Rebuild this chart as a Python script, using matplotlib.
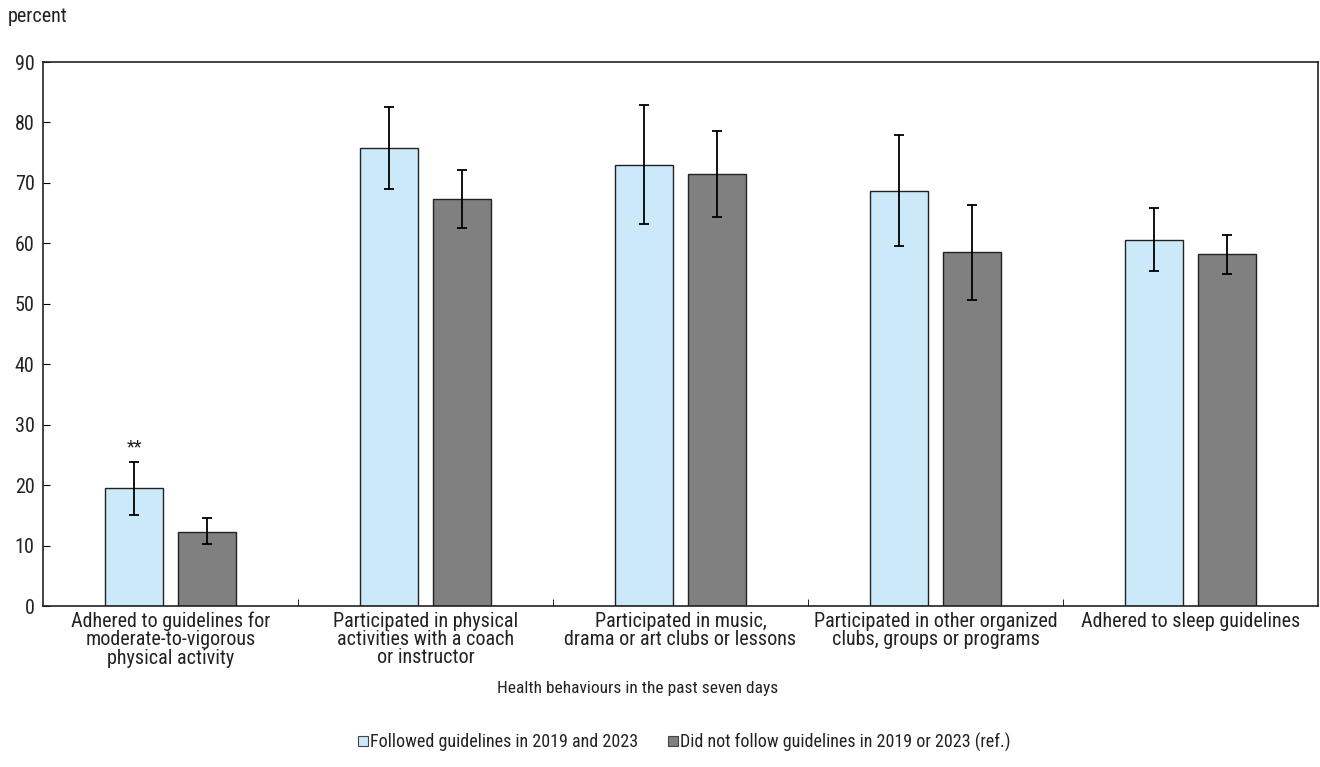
import matplotlib
matplotlib.use("Agg")
import matplotlib.pyplot as plt
import numpy as np
from matplotlib.lines import Line2D

plt.rcParams['font.family'] = ['Roboto Condensed', 'DejaVu Sans']
plt.rcParams['text.color'] = '#222222'

categories = [
    "Adhered to guidelines for\nmoderate-to-vigorous\nphysical activity",
    "Participated in physical\nactivities with a coach\nor instructor",
    "Participated in music,\ndrama or art clubs or lessons",
    "Participated in other organized\nclubs, groups or programs",
    "Adhered to sleep guidelines",
]
series_names = ["Followed guidelines in 2019 and 2023",
                "Did not follow guidelines in 2019 or 2023 (ref.)"]
followed = [19.5, 75.8, 73.0, 68.7, 60.6]
followed_lo = [15.1, 69.0, 63.2, 59.6, 55.4]
followed_hi = [23.9, 82.6, 82.9, 77.9, 65.9]
not_followed = [12.3, 67.3, 71.5, 58.5, 58.2]
not_followed_lo = [10.2, 62.6, 64.4, 50.6, 55.0]
not_followed_hi = [14.6, 72.1, 78.6, 66.3, 61.3]
annotations = ["**", "", "", "", ""]

fig = plt.figure(figsize=(13.2, 7.67), dpi=100)
ax = fig.add_axes([43/1320, 1-606/767, 1275/1320, 544/767])

x = np.arange(len(categories))
w = 0.224
off = 0.143
c1, c2 = "#cce9f9", "#808080"

def yerr(v, lo, hi):
    v, lo, hi = map(np.array, (v, lo, hi))
    return np.vstack([v - lo, hi - v])

ekw = dict(ecolor="black", elinewidth=1.3, capsize=3.5, capthick=1.3)
ax.bar(x - off, followed, w, color=c1, edgecolor="#222222", linewidth=1.0,
       yerr=yerr(followed, followed_lo, followed_hi), error_kw=ekw, zorder=2)
ax.bar(x + off, not_followed, w, color=c2, edgecolor="#222222", linewidth=1.0,
       yerr=yerr(not_followed, not_followed_lo, not_followed_hi), error_kw=ekw, zorder=2)

for i, a in enumerate(annotations):
    if a:
        ax.text(x[i] - off, followed_hi[i] + 0.8, a, ha="center", va="bottom", fontsize=13)

ax.set_xlim(-0.5, len(categories) - 0.5)
ax.set_ylim(0, 90)
ax.set_yticks(range(0, 91, 10))
ax.tick_params(axis="y", direction="in", length=5, labelsize=14.5, pad=6, labelcolor="#222222")
ax.set_xticks(x)
ax.set_xticklabels(categories, fontsize=14.5, color="#222222", linespacing=0.95)
ax.tick_params(axis="x", length=0, pad=4)
ax.set_xticks(np.arange(0.5, len(categories) - 0.5, 1), minor=True)
ax.tick_params(axis="x", which="minor", direction="in", length=5)
for s in ax.spines.values():
    s.set_linewidth(1.2)
    s.set_color("#222222")

fig.text(8/1320, 1-17/767, "percent", fontsize=14.5, va="center", ha="left")
fig.text(638/1320, 1-688/767, "Health behaviours in the past seven days", fontsize=12.5,
         ha="center", va="center")

handles = [Line2D([], [], marker="s", linestyle="none", markersize=6.5, markerfacecolor=c1,
                  markeredgecolor="#444444", markeredgewidth=0.8),
           Line2D([], [], marker="s", linestyle="none", markersize=6.5, markerfacecolor=c2,
                  markeredgecolor="#444444", markeredgewidth=0.8)]
fig.legend(handles, series_names, loc="center", bbox_to_anchor=(684/1320, 1-742/767),
           ncol=2, frameon=False, fontsize=13, handlelength=0.6, handletextpad=0.1,
           columnspacing=1.6, labelcolor="#222222")

fig.savefig("out.png", dpi=100)
